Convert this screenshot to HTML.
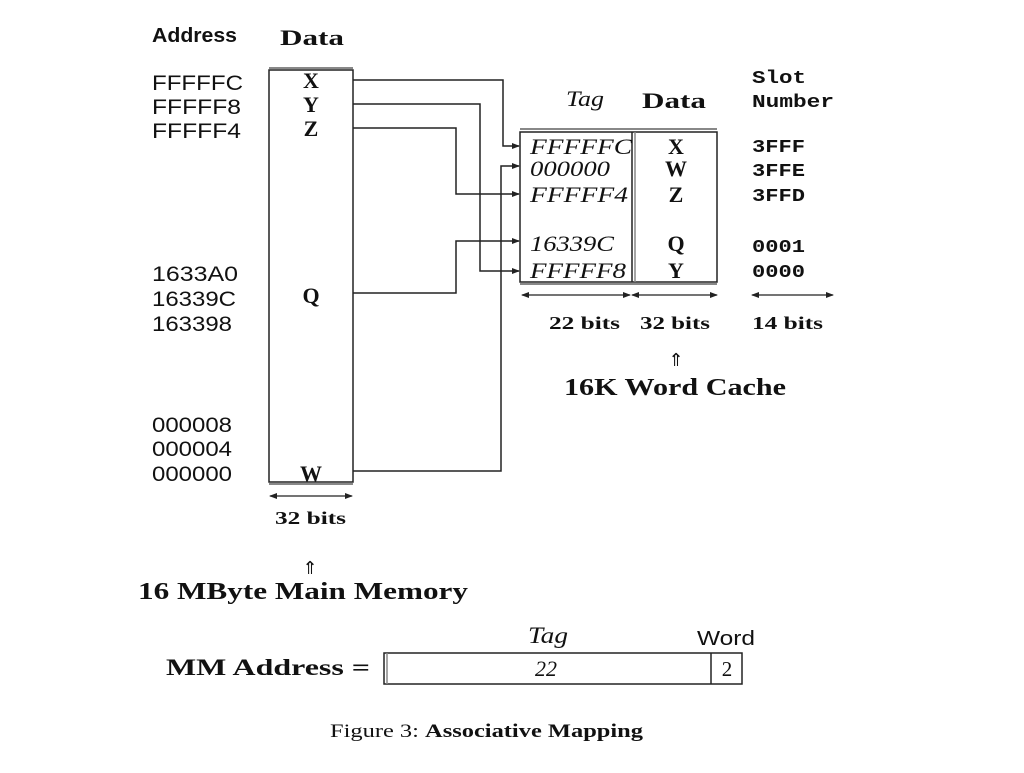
<!DOCTYPE html>
<html><head><meta charset="utf-8"><style>
body{margin:0;background:#fff;}
svg text{fill:#111;}
.ser{font-family:"Liberation Serif",serif;}
.san{font-family:"Liberation Sans",sans-serif;}
.mono{font-family:"Liberation Mono",monospace;font-weight:bold;}
</style></head><body>
<svg width="1024" height="768" viewBox="0 0 1024 768" xmlns="http://www.w3.org/2000/svg">
<defs><marker id="a" markerWidth="8" markerHeight="6" refX="7" refY="3" orient="auto-start-reverse" markerUnits="userSpaceOnUse"><path d="M0,0 L8,3 L0,6z" fill="#222"/></marker></defs>
<g stroke="#222" stroke-width="1.5" fill="none">
<rect x="269" y="70" width="84" height="412"/>
<line x1="269" y1="68" x2="353" y2="68" stroke="#888" stroke-width="2"/>
<line x1="269" y1="484" x2="353" y2="484" stroke="#888" stroke-width="2"/>
<polyline points="353,80 503,80 503,146 519,146" marker-end="url(#a)"/>
<polyline points="353,104 480,104 480,271 519,271" marker-end="url(#a)"/>
<polyline points="353,128 456,128 456,194 519,194" marker-end="url(#a)"/>
<polyline points="353,293 456,293 456,241 519,241" marker-end="url(#a)"/>
<polyline points="353,471 501,471 501,166 519,166" marker-end="url(#a)"/>
<rect x="520" y="132" width="197" height="150"/>
<line x1="520" y1="129" x2="717" y2="129" stroke="#888" stroke-width="2"/>
<line x1="520" y1="284" x2="717" y2="284" stroke="#888" stroke-width="2"/>
<line x1="632" y1="132" x2="632" y2="282"/><line x1="635" y1="132" x2="635" y2="282" stroke="#888"/>
<g stroke-width="1.2">
<line x1="522" y1="295" x2="630" y2="295" marker-start="url(#a)" marker-end="url(#a)"/>
<line x1="632" y1="295" x2="717" y2="295" marker-start="url(#a)" marker-end="url(#a)"/>
<line x1="752" y1="295" x2="833" y2="295" marker-start="url(#a)" marker-end="url(#a)"/>
<line x1="270" y1="496" x2="352" y2="496" marker-start="url(#a)" marker-end="url(#a)"/>
</g>
<rect x="384" y="653" width="358" height="31"/>
<line x1="387" y1="653" x2="387" y2="684" stroke="#888"/>
<line x1="711" y1="653" x2="711" y2="684"/>
</g>
<text class="san" x="152" y="42" font-size="20" font-weight="bold" textLength="85" lengthAdjust="spacingAndGlyphs">Address</text>
<text class="ser" x="280" y="45" font-size="22" font-weight="bold" textLength="64" lengthAdjust="spacingAndGlyphs">Data</text>
<g class="san" font-size="21" lengthAdjust="spacingAndGlyphs">
<text x="152" y="90" textLength="91" lengthAdjust="spacingAndGlyphs">FFFFFC</text><text x="152" y="114" textLength="89" lengthAdjust="spacingAndGlyphs">FFFFF8</text><text x="152" y="138" textLength="89" lengthAdjust="spacingAndGlyphs">FFFFF4</text>
<text x="152" y="281" textLength="86" lengthAdjust="spacingAndGlyphs">1633A0</text><text x="152" y="306" textLength="84" lengthAdjust="spacingAndGlyphs">16339C</text><text x="152" y="331" textLength="80" lengthAdjust="spacingAndGlyphs">163398</text>
<text x="152" y="432" textLength="80" lengthAdjust="spacingAndGlyphs">000008</text><text x="152" y="456" textLength="80" lengthAdjust="spacingAndGlyphs">000004</text><text x="152" y="481" textLength="80" lengthAdjust="spacingAndGlyphs">000000</text>
</g>
<g class="ser" font-size="22" font-weight="bold" text-anchor="middle">
<text x="311" y="88">X</text><text x="311" y="112">Y</text><text x="311" y="136">Z</text>
<text x="311" y="303">Q</text><text x="311" y="481">W</text>
<text x="676" y="154">X</text><text x="676" y="176">W</text><text x="676" y="202">Z</text>
<text x="676" y="251">Q</text><text x="676" y="278">Y</text>
</g>
<g class="ser" font-size="22" font-style="italic">
<text x="530" y="154" textLength="102" lengthAdjust="spacingAndGlyphs">FFFFFC</text><text x="530" y="176" textLength="80" lengthAdjust="spacingAndGlyphs">000000</text><text x="530" y="202" textLength="98" lengthAdjust="spacingAndGlyphs">FFFFF4</text>
<text x="530" y="251" textLength="84" lengthAdjust="spacingAndGlyphs">16339C</text><text x="530" y="278" textLength="96" lengthAdjust="spacingAndGlyphs">FFFFF8</text>
</g>
<text class="ser" x="566" y="106" font-size="22" font-style="italic" textLength="38" lengthAdjust="spacingAndGlyphs">Tag</text>
<text class="ser" x="642" y="108" font-size="22" font-weight="bold" textLength="64" lengthAdjust="spacingAndGlyphs">Data</text>
<g class="mono" font-size="18">
<text x="752" y="83" textLength="54" lengthAdjust="spacingAndGlyphs">Slot</text><text x="752" y="107" textLength="82" lengthAdjust="spacingAndGlyphs">Number</text>
<text x="752" y="152" textLength="53" lengthAdjust="spacingAndGlyphs">3FFF</text><text x="752" y="176" textLength="53" lengthAdjust="spacingAndGlyphs">3FFE</text><text x="752" y="201" textLength="53" lengthAdjust="spacingAndGlyphs">3FFD</text>
<text x="752" y="252" textLength="53" lengthAdjust="spacingAndGlyphs">0001</text><text x="752" y="277" textLength="53" lengthAdjust="spacingAndGlyphs">0000</text>
</g>
<g class="ser" font-size="18" font-weight="bold">
<text x="549" y="329" textLength="71" lengthAdjust="spacingAndGlyphs">22 bits</text><text x="640" y="329" textLength="70" lengthAdjust="spacingAndGlyphs">32 bits</text><text x="752" y="329" textLength="71" lengthAdjust="spacingAndGlyphs">14 bits</text>
<text x="275" y="524" textLength="71" lengthAdjust="spacingAndGlyphs">32 bits</text>
</g>
<text class="ser" x="676" y="366" font-size="18" text-anchor="middle">⇑</text>
<text class="ser" x="564" y="395" font-size="24" font-weight="bold" textLength="222" lengthAdjust="spacingAndGlyphs">16K Word Cache</text>
<text class="ser" x="310" y="574" font-size="18" text-anchor="middle">⇑</text>
<text class="ser" x="138" y="599" font-size="24" font-weight="bold" textLength="330" lengthAdjust="spacingAndGlyphs">16 MByte Main Memory</text>
<text class="ser" x="166" y="675" font-size="23" font-weight="bold" textLength="204" lengthAdjust="spacingAndGlyphs">MM Address =</text>
<text class="ser" x="528" y="643" font-size="23" font-style="italic" textLength="40" lengthAdjust="spacingAndGlyphs">Tag</text>
<text class="san" x="697" y="645" font-size="20" textLength="58" lengthAdjust="spacingAndGlyphs">Word</text>
<text class="ser" x="546" y="676" font-size="22" font-style="italic" text-anchor="middle">22</text>
<text class="ser" x="727" y="676" font-size="21" text-anchor="middle">2</text>
<text class="ser" x="330" y="737" font-size="19" textLength="313" lengthAdjust="spacingAndGlyphs">Figure 3: <tspan font-weight="bold">Associative Mapping</tspan></text>
</svg>
</body></html>
